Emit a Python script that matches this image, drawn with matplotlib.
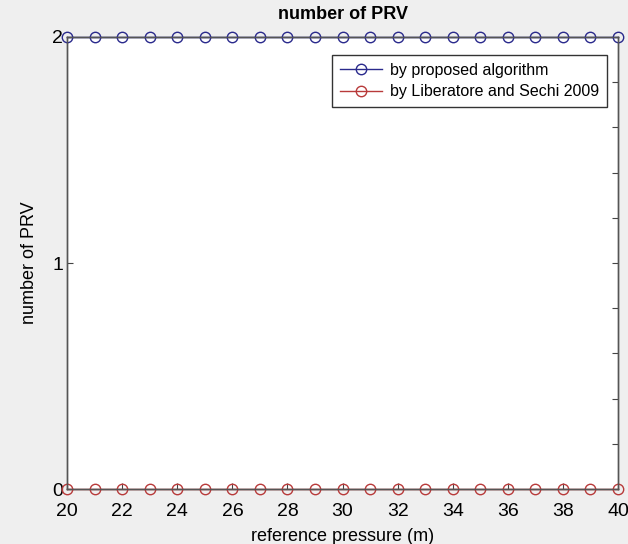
import matplotlib
matplotlib.use("Agg")
import matplotlib.pyplot as plt
import numpy as np

plt.rcParams['font.family'] = ['Liberation Sans', 'DejaVu Sans']

ref_pressure = list(range(20, 41))
prv_proposed = [2] * 21
prv_liberatore = [0] * 21
xticks = [20, 22, 24, 26, 28, 30, 32, 34, 36, 38, 40]
yticks = [0, 1, 2]

fig = plt.figure(figsize=(6.28, 5.44), dpi=100, facecolor='#efefef')
ax = fig.add_axes([0.107, 0.101, 0.877, 0.831])
ax.set_facecolor('white')

blue = '#2a2a8c'
red = '#b83a3a'
ax.plot(ref_pressure, prv_proposed, '-o', color=blue, mfc='none', mec=blue,
        ms=7.5, lw=1.0, mew=1.0, label='by proposed algorithm', clip_on=False, zorder=5)
ax.plot(ref_pressure, prv_liberatore, '-o', color=red, mfc='none', mec=red,
        ms=7.5, lw=1.0, mew=1.0, label='by Liberatore and Sechi 2009', clip_on=False, zorder=5)

ax.set_xlim(20, 40)
ax.set_ylim(0, 2)
ax.set_xticks(xticks)
ax.set_yticks(yticks)
ax.tick_params(axis='both', direction='in', labelsize=14, length=4, width=0.8, color='#444444')
ax.tick_params(axis='y', pad=3)
ax.tick_params(axis='x', pad=10)
# right side ticks
axr = ax.twinx()
axr.set_ylim(0, 2)
axr.set_yticks(np.arange(0.2, 1.81, 0.2))
axr.tick_params(axis='y', direction='in', length=4, width=0.8, color='#444444', labelright=False)
axr.set_zorder(0)

for a in (ax, axr):
    for s in a.spines.values():
        s.set_color('#555555')
        s.set_linewidth(1.0)

ax.set_title('number of PRV', fontsize=13, fontweight='bold', pad=13)
ax.set_xlabel('reference pressure (m)', fontsize=13, labelpad=6)
ax.set_ylabel('number of PRV', fontsize=13, labelpad=10)

leg = ax.legend(loc='upper right', bbox_to_anchor=(0.994, 0.978), fontsize=11.5,
                frameon=True, fancybox=False, edgecolor='#333333', framealpha=1,
                handlelength=2.6, borderpad=0.5, labelspacing=0.4, handletextpad=0.5)
leg.get_frame().set_linewidth(1.0)

fig.savefig('out.png', dpi=100, facecolor=fig.get_facecolor())
